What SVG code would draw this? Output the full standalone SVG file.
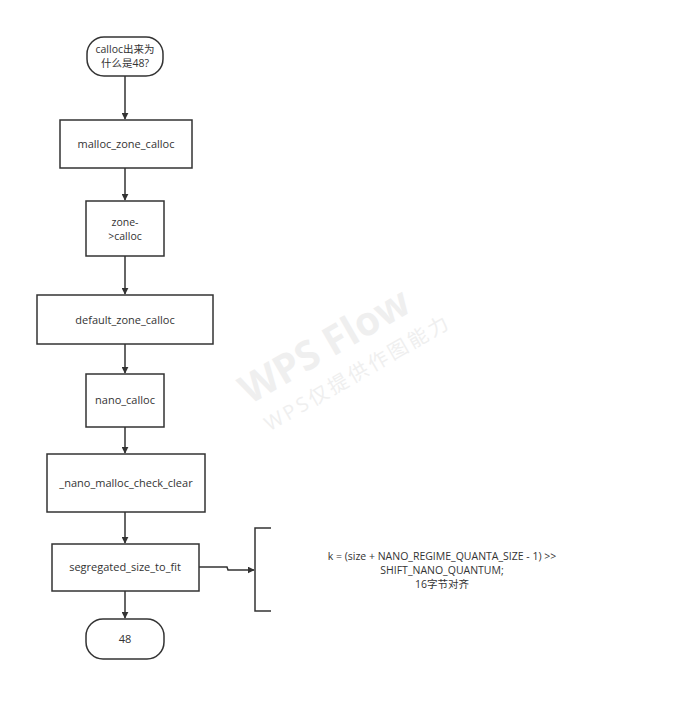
<svg xmlns="http://www.w3.org/2000/svg" width="680" height="707" viewBox="0 0 680 707">
<style>
.n{fill:#fff;stroke:#333;stroke-width:1.5}
.t{font-family:"Open Sans","Noto Sans CJK SC",sans-serif;font-size:11px;fill:#333;text-anchor:middle}
.s{font-size:10.5px}
.c{fill:none;stroke:#333;stroke-width:1.5}
.wm{font-family:"Open Sans","Noto Sans CJK SC",sans-serif;fill:#efefef;text-anchor:middle}
</style>
<defs>
<marker id="a" viewBox="0 0 10 10" refX="9" refY="5" markerWidth="7" markerHeight="7" markerUnits="userSpaceOnUse" orient="auto">
<path d="M0,0 L10,5 L0,10 z" fill="#333"/>
</marker>
</defs>
<rect width="680" height="707" fill="#fff"/>
<g transform="translate(4,12) rotate(-30 330 350)">
<text class="wm" x="330" y="345" font-size="40" font-weight="bold">WPS Flow</text>
<text class="wm" x="345" y="378" font-size="20" letter-spacing="3">WPS仅提供作图能力</text>
</g>
<g id="connectors">
<path class="c" marker-end="url(#a)" d="M125,76 V119"/>
<path class="c" marker-end="url(#a)" d="M125,168 V200"/>
<path class="c" marker-end="url(#a)" d="M125,256 V294"/>
<path class="c" marker-end="url(#a)" d="M125,344 V373"/>
<path class="c" marker-end="url(#a)" d="M125,427 V453"/>
<path class="c" marker-end="url(#a)" d="M125,512 V543"/>
<path class="c" marker-end="url(#a)" d="M125,591 V618"/>
<path class="c" marker-end="url(#a)" d="M199,567 H227 L228,570 H254"/>
</g>
<g id="start">
<rect class="n" x="87" y="37" width="76" height="39" rx="17"/>
<text class="t s" x="125" y="53">calloc出来为</text>
<text class="t s" x="125" y="67">什么是48?</text>
</g>
<g id="malloc_zone_calloc">
<rect class="n" x="60" y="120" width="132" height="48"/>
<text class="t" x="126" y="148">malloc_zone_calloc</text>
</g>
<g id="zone_calloc">
<rect class="n" x="86" y="201" width="78" height="55"/>
<text class="t s" x="125" y="226">zone-</text>
<text class="t s" x="125" y="240">&gt;calloc</text>
</g>
<g id="default_zone_calloc">
<rect class="n" x="37" y="295" width="176" height="49"/>
<text class="t" x="125" y="324">default_zone_calloc</text>
</g>
<g id="nano_calloc">
<rect class="n" x="86" y="374" width="78" height="53"/>
<text class="t" x="125" y="404">nano_calloc</text>
</g>
<g id="nano_malloc_check_clear">
<rect class="n" x="47" y="454" width="158" height="58"/>
<text class="t" x="126" y="487">_nano_malloc_check_clear</text>
</g>
<g id="segregated_size_to_fit">
<rect class="n" x="52" y="544" width="147" height="47"/>
<text class="t" x="125" y="571">segregated_size_to_fit</text>
</g>
<g id="end">
<rect class="n" x="86" y="619" width="78" height="40" rx="17"/>
<text class="t" x="125" y="643">48</text>
</g>
<g id="annotation">
<path class="c" d="M271,528 H255 V611 H271"/>
<text class="t s" x="442" y="560">k = (size + NANO_REGIME_QUANTA_SIZE - 1) &gt;&gt;</text>
<text class="t s" x="442" y="574">SHIFT_NANO_QUANTUM;</text>
<text class="t s" x="442" y="588">16字节对齐</text>
</g>
</svg>
